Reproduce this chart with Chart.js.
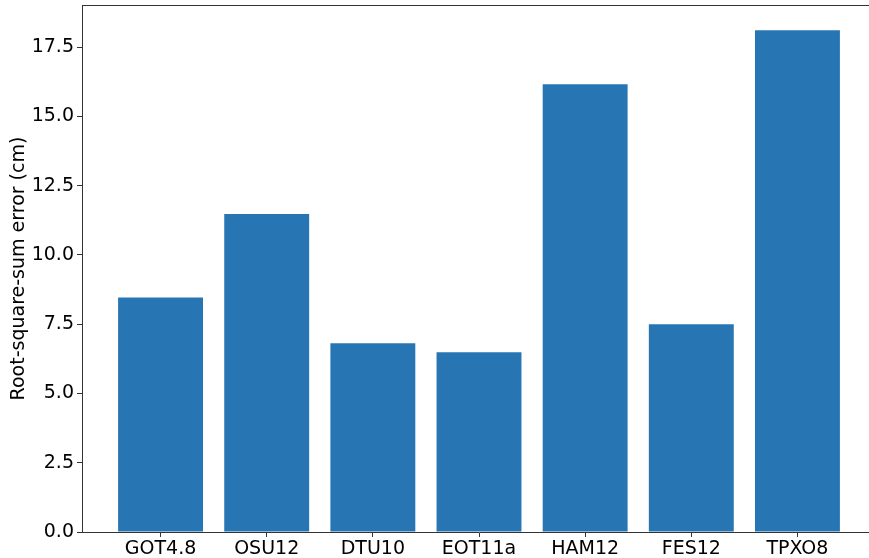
<!DOCTYPE html>
<html>
<head>
<meta charset="utf-8">
<script src="https://cdn.jsdelivr.net/npm/chart.js@4/dist/chart.umd.min.js"></script>
<style>
  html, body { margin: 0; padding: 0; background: #fff; overflow: hidden; }
  #wrap { width: 869px; height: 558px; overflow: hidden; position: relative; }
  canvas { position: absolute; left: 0; top: 0; }
</style>
</head>
<body>
<div id="wrap"><canvas id="c" width="877" height="558"></canvas></div>
<script>
// Tide models and their root-square-sum error (cm)
const models = ["GOT4.8", "OSU12", "DTU10", "EOT11a", "HAM12", "FES12", "TPXO8"];
const rssError = [8.46, 11.48, 6.81, 6.49, 16.16, 7.50, 18.11];
const yTicks = [0, 2.5, 5, 7.5, 10, 12.5, 15, 17.5];

const FONT = "'DejaVu Sans', sans-serif";
const barColor = "#2776b3";

// frame along the top of the plot area
const topSpine = {
  id: "topSpine",
  afterDraw(chart) {
    const { ctx, chartArea } = chart;
    ctx.save();
    ctx.strokeStyle = "#333";
    ctx.lineWidth = 1;
    ctx.beginPath();
    ctx.moveTo(chartArea.left, chartArea.top + 0.5);
    ctx.lineTo(chartArea.right, chartArea.top + 0.5);
    ctx.stroke();
    ctx.restore();
  }
};

function noPad(scale) {
  scale.paddingTop = 0;
  scale.paddingBottom = 0;
  scale.paddingLeft = 0;
  scale.paddingRight = 0;
}

new Chart(document.getElementById("c"), {
  type: "bar",
  data: {
    datasets: [{
      data: models.map((m, i) => ({ x: i, y: rssError[i] })),
      backgroundColor: barColor,
      borderWidth: 0,
      barPercentage: 0.8,
      categoryPercentage: 1.0
    }]
  },
  plugins: [topSpine],
  options: {
    responsive: false,
    animation: false,
    devicePixelRatio: 1,
    layout: { padding: { top: 5, right: 1, left: 0, bottom: 0 } },
    plugins: { legend: { display: false }, tooltip: { enabled: false } },
    scales: {
      x: {
        type: "linear",
        offset: false,
        min: -0.74,
        max: 6.74,
        afterBuildTicks(scale) {
          scale.ticks = models.map((m, i) => ({ value: i }));
        },
        afterFit(scale) { scale.height = 26; noPad(scale); },
        ticks: {
          callback: (v) => models[v] ?? "",
          color: "#000",
          font: { family: FONT, size: 19 },
          padding: 1,
          maxRotation: 0,
          autoSkip: false
        },
        grid: { display: true, offset: false, drawOnChartArea: false, drawTicks: true, tickLength: 5, color: "#333" },
        border: { display: true, color: "#333", width: 1 }
      },
      y: {
        min: 0,
        max: 19.02,
        afterBuildTicks(scale) {
          scale.ticks = yTicks.map(v => ({ value: v }));
        },
        afterFit(scale) { scale.width = 82; noPad(scale); },
        title: {
          display: true,
          text: "Root-square-sum error (cm)",
          color: "#000",
          font: { family: FONT, size: 19 },
          padding: { top: 8, bottom: 0 }
        },
        ticks: {
          callback: (v) => v.toFixed(1),
          color: "#000",
          font: { family: FONT, size: 19 },
          padding: 3
        },
        grid: { display: true, drawOnChartArea: false, drawTicks: true, tickLength: 5, color: "#333" },
        border: { display: true, color: "#333", width: 1 }
      }
    }
  }
});
</script>
</body>
</html>
